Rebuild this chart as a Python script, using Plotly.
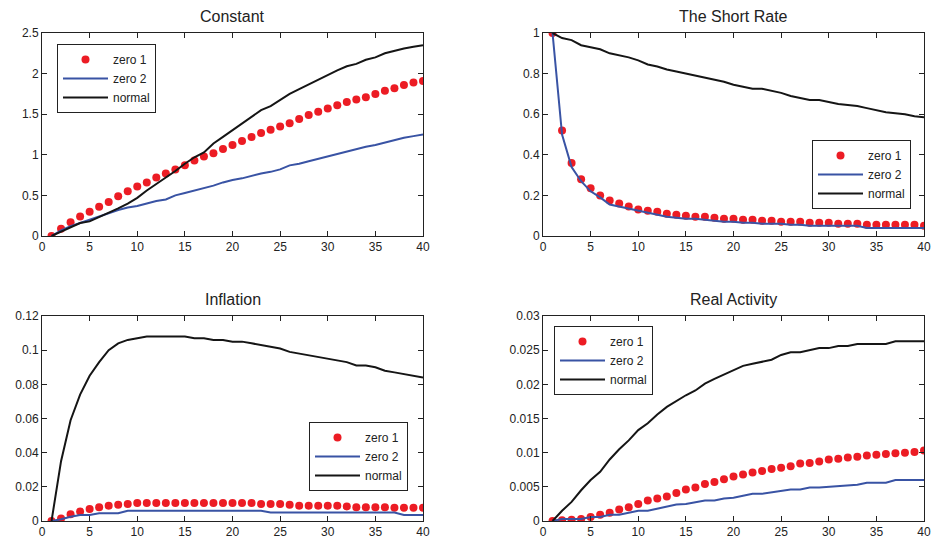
import plotly.graph_objects as go

periods = list(range(1, 41))

titles = ["Constant", "The Short Rate", "Inflation", "Real Activity"]
series_names = ["zero 1", "zero 2", "normal"]

const_zero1 = [0, 0.09, 0.17, 0.24, 0.30, 0.36, 0.42, 0.49, 0.55, 0.61, 0.66, 0.72, 0.77, 0.82, 0.87, 0.93, 0.98, 1.02, 1.07, 1.12,
               1.17, 1.22, 1.27, 1.31, 1.35, 1.39, 1.44, 1.49, 1.53, 1.57, 1.61, 1.65, 1.68, 1.71, 1.75, 1.79, 1.82, 1.86, 1.89, 1.91]
const_zero2 = [0, 0.07, 0.12, 0.16, 0.20, 0.24, 0.28, 0.32, 0.35, 0.37, 0.40, 0.43, 0.45, 0.50, 0.53, 0.56, 0.59, 0.62, 0.66, 0.69,
               0.71, 0.74, 0.77, 0.79, 0.82, 0.87, 0.89, 0.92, 0.95, 0.98, 1.01, 1.04, 1.07, 1.10, 1.12, 1.15, 1.18, 1.21, 1.23, 1.25]
const_normal = [0, 0.05, 0.11, 0.16, 0.18, 0.23, 0.29, 0.34, 0.40, 0.47, 0.56, 0.64, 0.71, 0.80, 0.89, 0.97, 1.03, 1.14, 1.22, 1.30,
                1.38, 1.46, 1.55, 1.60, 1.68, 1.75, 1.81, 1.87, 1.93, 1.98, 2.04, 2.09, 2.12, 2.17, 2.20, 2.25, 2.28, 2.31, 2.33, 2.35]

rate_zero1 = [1.0, 0.52, 0.36, 0.28, 0.235, 0.20, 0.175, 0.16, 0.145, 0.13, 0.125, 0.12, 0.11, 0.105, 0.10, 0.095, 0.095, 0.09, 0.085, 0.085,
              0.08, 0.08, 0.075, 0.075, 0.07, 0.07, 0.07, 0.065, 0.065, 0.065, 0.06, 0.06, 0.06, 0.055, 0.055, 0.055, 0.055, 0.055, 0.055, 0.05]
rate_zero2 = [1.0, 0.50, 0.34, 0.27, 0.22, 0.19, 0.155, 0.145, 0.135, 0.125, 0.115, 0.105, 0.095, 0.09, 0.085, 0.085, 0.08, 0.075, 0.07, 0.07,
              0.065, 0.065, 0.06, 0.06, 0.06, 0.055, 0.055, 0.05, 0.05, 0.05, 0.05, 0.05, 0.05, 0.04, 0.04, 0.04, 0.04, 0.04, 0.04, 0.04]
rate_normal = [1.0, 0.975, 0.965, 0.94, 0.93, 0.92, 0.90, 0.89, 0.88, 0.865, 0.845, 0.835, 0.82, 0.81, 0.80, 0.79, 0.78, 0.77, 0.76, 0.745,
               0.735, 0.725, 0.725, 0.715, 0.705, 0.69, 0.68, 0.67, 0.67, 0.66, 0.65, 0.645, 0.64, 0.63, 0.62, 0.61, 0.605, 0.60, 0.59, 0.585]

infl_zero1 = [0, 0.0015, 0.004, 0.0055, 0.007, 0.008, 0.009, 0.0095, 0.010, 0.0105, 0.0105, 0.0105, 0.0105, 0.0105, 0.0105, 0.0105, 0.0105, 0.0105, 0.0105, 0.0105,
              0.0105, 0.0105, 0.010, 0.010, 0.010, 0.0095, 0.009, 0.009, 0.009, 0.009, 0.009, 0.0085, 0.008, 0.008, 0.008, 0.008, 0.0078, 0.0078, 0.0078, 0.0078]
infl_zero2 = [0, 0.001, 0.0025, 0.0035, 0.0035, 0.0045, 0.0045, 0.0045, 0.006, 0.006, 0.006, 0.006, 0.006, 0.006, 0.006, 0.006, 0.006, 0.006, 0.006, 0.006,
              0.006, 0.006, 0.006, 0.005, 0.005, 0.005, 0.005, 0.005, 0.005, 0.005, 0.005, 0.005, 0.005, 0.005, 0.005, 0.005, 0.005, 0.0035, 0.0035, 0.0035]
infl_normal = [0, 0.035, 0.059, 0.074, 0.085, 0.093, 0.100, 0.104, 0.106, 0.107, 0.108, 0.108, 0.108, 0.108, 0.108, 0.107, 0.107, 0.106, 0.106, 0.105,
               0.105, 0.104, 0.103, 0.102, 0.101, 0.099, 0.098, 0.097, 0.096, 0.095, 0.094, 0.093, 0.091, 0.091, 0.090, 0.088, 0.087, 0.086, 0.085, 0.084]

real_zero1 = [0, 0.0001, 0.0002, 0.0003, 0.0006, 0.0009, 0.0012, 0.0017, 0.0020, 0.0025, 0.0030, 0.0033, 0.0036, 0.0041, 0.0046, 0.0049, 0.0054, 0.0057, 0.0061, 0.0065,
              0.0068, 0.0071, 0.0073, 0.0076, 0.0078, 0.0080, 0.0084, 0.0085, 0.0087, 0.0090, 0.0091, 0.0093, 0.0094, 0.0096, 0.0097, 0.0098, 0.0099, 0.0100, 0.0101, 0.0103]
real_zero2 = [0, 0.0003, 0.0003, 0.0003, 0.0006, 0.0006, 0.0009, 0.0009, 0.0012, 0.0015, 0.0015, 0.0018, 0.0021, 0.0024, 0.0025, 0.0027, 0.0030, 0.0030, 0.0033, 0.0034,
              0.0037, 0.0040, 0.0040, 0.0042, 0.0043, 0.0046, 0.0046, 0.0049, 0.0049, 0.0050, 0.0052, 0.0052, 0.0053, 0.0056, 0.0056, 0.0056, 0.0060, 0.0060, 0.0060, 0.0060]
real_normal = [0, 0.0015, 0.0028, 0.0045, 0.0060, 0.0072, 0.0090, 0.0105, 0.0118, 0.0133, 0.0143, 0.0156, 0.0167, 0.0176, 0.0184, 0.0191, 0.0201, 0.0208, 0.0214, 0.0221,
               0.0227, 0.0230, 0.0233, 0.0236, 0.0243, 0.0247, 0.0247, 0.0250, 0.0253, 0.0253, 0.0256, 0.0256, 0.0259, 0.0259, 0.0259, 0.0259, 0.0263, 0.0263, 0.0263, 0.0263]

panels = [
    (const_zero1, const_zero2, const_normal),
    (rate_zero1, rate_zero2, rate_normal),
    (infl_zero1, infl_zero2, infl_normal),
    (real_zero1, real_zero2, real_normal),
]
y_ranges = [[0, 2.5], [0, 1], [0, 0.12], [0, 0.03]]
y_dticks = [0.5, 0.2, 0.02, 0.005]

W, H = 936, 540
RED = "#ec1c24"
BLUE = "#3953a4"
BLACK = "#151515"
FONT = "Liberation Sans, Arial, sans-serif"

# plot areas in pixels: (left, right, top, bottom)
boxes = [(42, 423, 33, 236), (543, 924, 33, 236), (42, 423, 316, 521), (543, 924, 316, 521)]
# legends: (x, y, xanchor)
legend_pos = [(57 / W, 1 - 44 / H, "left"), (911 / W, 1 - 140 / H, "right"),
              (408 / W, 1 - 422 / H, "right"), (554 / W, 1 - 326 / H, "left")]

fig = go.Figure()
layout = dict(width=W, height=H, margin=dict(l=0, r=0, t=0, b=0, pad=0, autoexpand=False),
              paper_bgcolor="white", plot_bgcolor="white",
              font=dict(family=FONT, size=12, color="#222"), annotations=[])

for i, (z1, z2, nm) in enumerate(panels):
    n = "" if i == 0 else str(i + 1)
    xa, ya = "x" + n, "y" + n
    leg = "legend" + n
    fig.add_trace(go.Scatter(x=periods, y=z1, mode="markers", name=series_names[0],
                             marker=dict(color=RED, size=8), xaxis=xa, yaxis=ya, legend=leg))
    fig.add_trace(go.Scatter(x=periods, y=z2, mode="lines", name=series_names[1],
                             line=dict(color=BLUE, width=2), xaxis=xa, yaxis=ya, legend=leg))
    fig.add_trace(go.Scatter(x=periods, y=nm, mode="lines", name=series_names[2],
                             line=dict(color=BLACK, width=2), xaxis=xa, yaxis=ya, legend=leg))
    l, r, t, b = boxes[i]
    common = dict(showline=True, linecolor="#222", linewidth=1, mirror="allticks",
                  ticks="inside", ticklen=5, tickcolor="#222", showgrid=False, zeroline=False,
                  automargin=False, tickfont=dict(size=12, color="#222"))
    layout["xaxis" + n] = dict(domain=[l / W, r / W], range=[0, 40], dtick=5, tick0=0,
                               anchor=ya, **common)
    layout["yaxis" + n] = dict(domain=[1 - b / H, 1 - t / H], range=y_ranges[i], dtick=y_dticks[i],
                               tick0=0, anchor=xa, **common)
    lx, ly, lxa = legend_pos[i]
    layout[leg] = dict(x=lx, y=ly, xanchor=lxa, yanchor="top", xref="paper", yref="paper",
                       bgcolor="white", bordercolor="#222", borderwidth=1, itemwidth=45,
                       font=dict(size=12, color="#222"), tracegroupgap=0)
    layout["annotations"].append(dict(text=titles[i], x=(l + r) / 2 / W, y=1 - t / H,
                                      xref="paper", yref="paper", xanchor="center", yanchor="middle",
                                      yshift=17, showarrow=False, font=dict(size=16, color="#222")))

fig.update_layout(**layout)
fig.write_html("out.html", config={"displayModeBar": False},
               post_script="document.body.style.margin='0';document.body.style.overflow='hidden';")
